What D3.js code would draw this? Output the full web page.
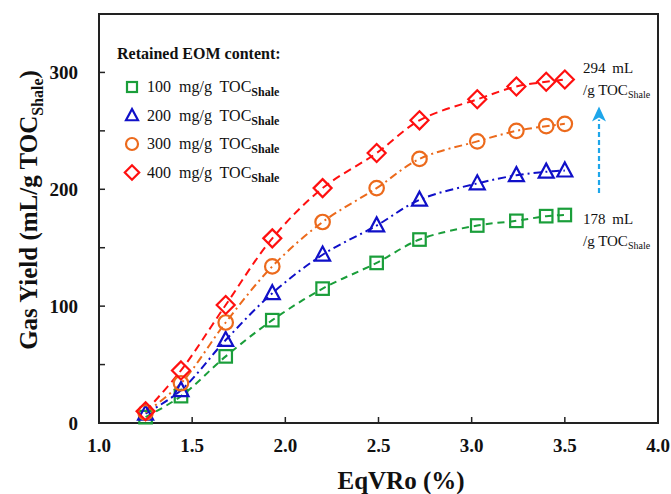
<!DOCTYPE html>
<html>
<head>
<meta charset="utf-8">
<script src="https://cdn.jsdelivr.net/npm/d3@7"></script>
<style>
  html, body { margin: 0; padding: 0; background: #fff; }
  svg { display: block; }
  text { font-family: "Liberation Serif", "Times New Roman", serif; fill: #111; }
</style>
</head>
<body>
<svg id="chart" width="671" height="494"></svg>
<script>
// Equivalent vitrinite reflectance of each pyrolysis step (%)
const eqVRo = [1.25, 1.44, 1.68, 1.93, 2.20, 2.49, 2.72, 3.03, 3.24, 3.40, 3.50];

// Cumulative gas yield (mL/g TOC_Shale) for each retained EOM content
const yield100 = [5, 23, 57, 88, 115, 137, 157, 169, 173, 177, 178];
const yield200 = [8, 28, 71, 111, 144, 169, 191, 205, 212, 215, 216];
const yield300 = [9, 34, 86, 134, 172, 201, 226, 241, 250, 254, 256];
const yield400 = [10, 45, 101, 158, 201, 231, 259, 277, 288, 292, 294];

const seriesNames = ["100", "200", "300", "400"];
const xTicks = [1.0, 1.5, 2.0, 2.5, 3.0, 3.5, 4.0];
const yTicks = [0, 100, 200, 300];
const yMinorTicks = [50, 150, 250];

const series = [
  { name: seriesNames[0], values: yield100, color: "#1a9e3a", marker: "square",   dash: "7,5" },
  { name: seriesNames[1], values: yield200, color: "#1010c8", marker: "triangle", dash: "8,4,2,4" },
  { name: seriesNames[2], values: yield300, color: "#ec6a1c", marker: "circle",   dash: "8,4,2,4" },
  { name: seriesNames[3], values: yield400, color: "#ff1010", marker: "diamond",  dash: "8,5" }
];

const svg = d3.select("#chart");
const plotL = 99, plotR = 658, plotT = 14, plotB = 423;

const x = d3.scaleLinear().domain([1.0, 4.0]).range([plotL, plotR]);
const y = d3.scaleLinear().domain([0, 350]).range([plotB, plotT]);

// Plot frame
svg.append("rect")
  .attr("x", plotL).attr("y", plotT)
  .attr("width", plotR - plotL).attr("height", plotB - plotT)
  .attr("fill", "none").attr("stroke", "#222").attr("stroke-width", 2);

// Inward ticks
const tickG = svg.append("g").attr("stroke", "#222").attr("stroke-width", 1.5);
xTicks.filter(v => v > 1.0 && v < 4.0).forEach(v => {
  tickG.append("line").attr("x1", x(v)).attr("x2", x(v)).attr("y1", plotB).attr("y2", plotB - 6);
});
yTicks.concat(yMinorTicks).filter(v => v > 0).forEach(v => {
  tickG.append("line").attr("x1", plotL).attr("x2", plotL + 6).attr("y1", y(v)).attr("y2", y(v));
});

// Tick labels
svg.append("g").selectAll("text").data(xTicks).join("text")
  .attr("x", d => x(d)).attr("y", plotB + 29)
  .attr("text-anchor", "middle")
  .style("font-size", "19px").style("font-weight", "bold")
  .text(d => d.toFixed(1));

svg.append("g").selectAll("text").data(yTicks).join("text")
  .attr("x", plotL - 21).attr("y", d => y(d) + 7)
  .attr("text-anchor", "end")
  .style("font-size", "19px").style("font-weight", "bold")
  .text(d => d);

// Axis titles
svg.append("text")
  .attr("x", 401).attr("y", 489)
  .attr("text-anchor", "middle")
  .style("font-size", "25px").style("font-weight", "bold")
  .text("EqVRo (%)");

const yTitle = svg.append("text")
  .attr("transform", "translate(37,210) rotate(-90)")
  .attr("text-anchor", "middle")
  .style("font-size", "25px").style("font-weight", "bold");
yTitle.append("tspan").text("Gas Yield (mL/g TOC");
yTitle.append("tspan").attr("dy", 6).style("font-size", "16px").text("Shale");
yTitle.append("tspan").attr("dy", -6).text(")");

// Marker shapes
function drawMarker(g, kind, cx, cy, color, s) {
  const sw = 2.2;
  if (kind === "square") {
    g.append("rect").attr("x", cx - s / 2).attr("y", cy - s / 2).attr("width", s).attr("height", s)
      .attr("fill", "none").attr("stroke", color).attr("stroke-width", sw);
  } else if (kind === "circle") {
    g.append("circle").attr("cx", cx).attr("cy", cy).attr("r", s / 2 + 1)
      .attr("fill", "none").attr("stroke", color).attr("stroke-width", sw);
  } else if (kind === "triangle") {
    const h = s * 1.05, w = s * 1.2;
    g.append("path")
      .attr("d", `M${cx},${cy - h * 0.62}L${cx + w / 2},${cy + h * 0.45}L${cx - w / 2},${cy + h * 0.45}Z`)
      .attr("fill", "none").attr("stroke", color).attr("stroke-width", sw).attr("stroke-linejoin", "miter");
  } else {
    const r = s * 0.72;
    g.append("path")
      .attr("d", `M${cx},${cy - r}L${cx + r},${cy}L${cx},${cy + r}L${cx - r},${cy}Z`)
      .attr("fill", "none").attr("stroke", color).attr("stroke-width", sw);
  }
}

// Smoothed curves through the measured points, then markers on top
const line = d3.line()
  .x((d, i) => x(eqVRo[i]))
  .y(d => y(d))
  .curve(d3.curveCatmullRom.alpha(0.5));

series.forEach(s => {
  svg.append("path")
    .attr("d", line(s.values))
    .attr("fill", "none")
    .attr("stroke", s.color)
    .attr("stroke-width", 2)
    .attr("stroke-dasharray", s.dash);
});

series.forEach(s => {
  const g = svg.append("g");
  s.values.forEach((v, i) => drawMarker(g, s.marker, x(eqVRo[i]), y(v), s.color, 12.5));
});

// Legend
const legend = svg.append("g");
legend.append("text")
  .attr("x", 117).attr("y", 59)
  .style("font-size", "16px").style("font-weight", "bold")
  .text("Retained EOM content:");

series.forEach((s, i) => {
  const by = 92 + i * 28.5;
  drawMarker(legend, s.marker, 132, by - 5, s.color, 10);
  const t = legend.append("text")
    .attr("x", 147).attr("y", by)
    .style("font-size", "16px").style("word-spacing", "4px");
  t.append("tspan").text(`${s.name} mg/g TOC`);
  t.append("tspan").attr("dy", 4).style("font-size", "12px").style("font-weight", "bold").text("Shale");
});

// Yield increase annotation
const last100 = yield100[yield100.length - 1];
const last400 = yield400[yield400.length - 1];

const ax = 599;
svg.append("line")
  .attr("x1", ax).attr("x2", ax)
  .attr("y1", y(last100) - 22).attr("y2", y(last400) + 40)
  .attr("stroke", "#1ea6ea").attr("stroke-width", 2.2)
  .attr("stroke-dasharray", "5,3");
svg.append("path")
  .attr("d", `M${ax},${y(last400) + 27}L${ax + 7},${y(last400) + 42}L${ax},${y(last400) + 38}L${ax - 7},${y(last400) + 42}Z`)
  .attr("fill", "#1ea6ea");

function annot(val, yBase) {
  svg.append("text").attr("x", 583).attr("y", yBase)
    .style("font-size", "15px").style("word-spacing", "3px")
    .text(`${val} mL`);
  const t = svg.append("text").attr("x", 583).attr("y", yBase + 22)
    .style("font-size", "15px");
  t.append("tspan").text("/g TOC");
  t.append("tspan").attr("dy", 3).style("font-size", "10px").text("Shale");
}
annot(last400, 73);
annot(last100, 224);
</script>
</body>
</html>
